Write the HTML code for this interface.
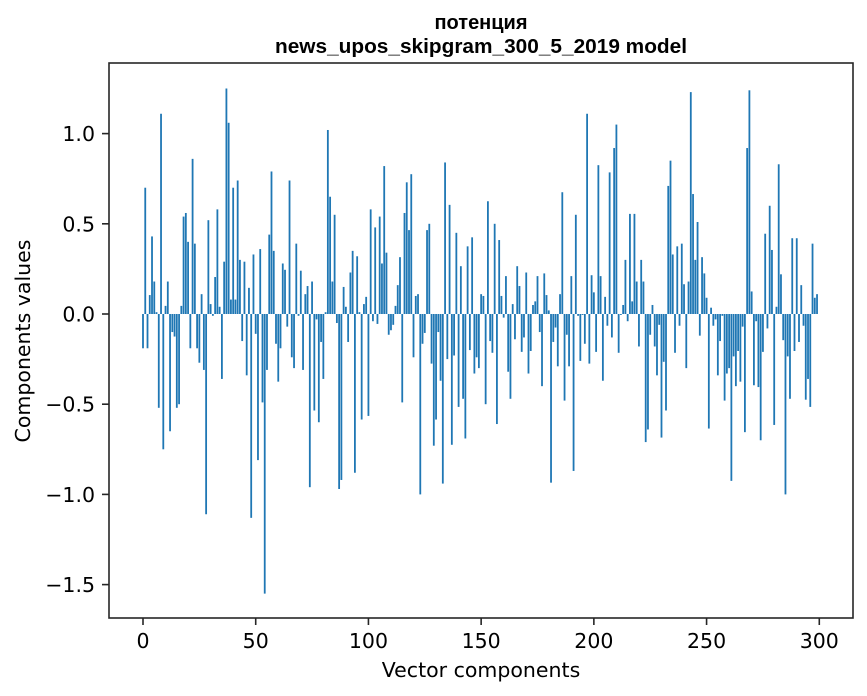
<!DOCTYPE html>
<html>
<head>
<meta charset="utf-8">
<style>
  html,body{margin:0;padding:0;background:#fff;}
  svg{display:block;}
  .tick{font-family:"DejaVu Sans","Liberation Sans",sans-serif;font-size:20.5px;fill:#000;}
  .lab{font-family:"DejaVu Sans","Liberation Sans",sans-serif;font-size:20.5px;fill:#000;}
  .title{font-family:"Liberation Sans","DejaVu Sans",sans-serif;font-size:20px;font-weight:bold;fill:#000;}
</style>
</head>
<body>
<svg id="chart" width="867" height="696" viewBox="0 0 867 696" xmlns="http://www.w3.org/2000/svg">
  <rect width="867" height="696" fill="#fff"/>
  <text class="title" x="481" y="29" text-anchor="middle">потенция</text>
  <text class="title" x="481" y="53" text-anchor="middle" textLength="412" lengthAdjust="spacingAndGlyphs">news_upos_skipgram_300_5_2019 model</text>
  <g id="bars"></g>
  <g id="xticks"></g>
  <g id="yticks"></g>
  <rect x="109" y="63" width="744" height="555" fill="none" stroke="#262626" stroke-width="1.6"/>
  <text class="lab" x="481" y="677" text-anchor="middle">Vector components</text>
  <text class="lab" x="0" y="0" text-anchor="middle" transform="translate(30,341) rotate(-90)">Components values</text>
</svg>
<script>
const values = [
-0.19,0.70,-0.19,0.105,0.43,0.18,0.01,-0.52,1.11,-0.75,
0.045,0.18,-0.65,-0.10,-0.125,-0.52,-0.50,0.045,0.54,0.56,
0.40,-0.19,0.86,0.39,-0.19,-0.27,0.11,-0.31,-1.11,0.52,
0.055,-0.01,0.205,0.58,0.04,-0.36,0.29,1.25,1.06,0.08,
0.70,0.08,0.74,0.30,-0.15,0.29,-0.34,0.145,-1.13,0.33,
-0.11,-0.81,0.36,-0.49,-1.55,-0.31,0.44,0.79,0.35,-0.165,
-0.375,-0.19,0.28,0.245,-0.07,0.74,-0.24,-0.30,0.39,-0.01,
0.24,-0.31,0.11,0.155,-0.96,0.18,-0.535,-0.03,-0.60,-0.155,
-0.36,0.01,1.02,0.65,0.18,0.55,-0.05,-0.97,-0.92,0.15,
0.04,-0.155,0.23,0.35,-0.88,0.32,0.01,-0.585,0.055,0.095,
-0.565,0.58,-0.04,0.48,-0.055,0.54,0.28,0.82,0.34,-0.115,
-0.09,-0.06,0.045,0.16,0.315,-0.49,0.56,0.73,0.465,0.775,
-0.24,0.10,0.11,-1.0,-0.165,-0.105,0.465,0.50,-0.275,-0.73,
-0.585,-0.10,-0.37,-0.94,0.84,-0.25,0.605,-0.725,-0.23,0.45,
-0.515,0.265,-0.47,-0.69,0.375,-0.20,0.425,-0.33,-0.24,-0.30,
0.11,0.10,-0.50,0.625,-0.15,-0.215,0.50,-0.61,0.41,0.10,
-0.02,0.21,-0.32,-0.47,0.055,-0.14,0.265,0.155,-0.21,-0.13,
0.23,-0.33,-0.205,0.05,0.07,0.21,-0.10,-0.40,0.225,0.105,
0.02,-0.935,-0.155,-0.075,-0.29,0.11,0.675,-0.48,-0.115,-0.29,
0.21,-0.87,0.55,-0.01,-0.26,-0.005,-0.165,1.11,-0.275,0.215,
0.12,-0.21,0.825,0.21,-0.37,0.095,-0.065,0.785,-0.13,0.92,
1.05,-0.215,-0.005,0.05,0.30,-0.04,0.555,0.07,0.555,0.18,
-0.18,0.30,0.18,-0.71,-0.64,-0.115,0.05,-0.18,-0.34,-0.06,
-0.685,-0.265,-0.535,0.71,0.85,0.33,-0.215,0.375,-0.065,0.39,
0.165,-0.30,0.18,1.23,0.665,0.30,0.51,-0.12,0.315,0.225,
0.09,-0.635,0.035,-0.065,-0.03,-0.34,-0.15,-0.01,-0.48,-0.33,
-0.30,-0.925,-0.235,-0.40,-0.205,-0.375,-0.07,-0.655,0.92,1.24,
0.125,-0.395,-0.04,-0.405,-0.70,-0.21,0.445,-0.08,0.60,0.355,
-0.615,0.04,0.83,0.22,-0.145,-1.0,-0.235,-0.47,0.42,-0.205,
0.42,-0.155,0.16,-0.065,-0.475,-0.36,-0.515,0.39,0.09,0.11
];
const xTickValues = [0,50,100,150,200,250,300];
const yTickValues = [-1.5,-1.0,-0.5,0.0,0.5,1.0];
const yTickLabels = ["\u22121.5","\u22121.0","\u22120.5","0.0","0.5","1.0"];

const NS = "http://www.w3.org/2000/svg";
function xScale(v){ return 143 + v * 2.2543; }
function yScale(v){ return 314 - v * 180.4; }

const barsG = document.getElementById('bars');
const bw = 0.8 * 2.2543;
values.forEach(function(v, i){
  const r = document.createElementNS(NS, 'rect');
  const y0 = yScale(0), y1 = yScale(v);
  r.setAttribute('x', (xScale(i) - bw/2).toFixed(2));
  r.setAttribute('y', Math.min(y0, y1).toFixed(2));
  r.setAttribute('width', bw.toFixed(2));
  r.setAttribute('height', Math.max(0.3, Math.abs(y1 - y0)).toFixed(2));
  r.setAttribute('fill', '#1f77b4');
  
  
  barsG.appendChild(r);
});

const xg = document.getElementById('xticks');
xTickValues.forEach(function(t){
  const x = xScale(t);
  const l = document.createElementNS(NS, 'line');
  l.setAttribute('x1', x); l.setAttribute('x2', x);
  l.setAttribute('y1', 618); l.setAttribute('y2', 625);
  l.setAttribute('stroke', '#262626'); l.setAttribute('stroke-width', '1.6');
  
  
  xg.appendChild(l);
  const tx = document.createElementNS(NS, 'text');
  tx.setAttribute('x', x); tx.setAttribute('y', 648);
  tx.setAttribute('text-anchor', 'middle');
  tx.setAttribute('class', 'tick');
  tx.textContent = String(t);
  
  
  xg.appendChild(tx);
});

const yg = document.getElementById('yticks');
yTickValues.forEach(function(t, k){
  const y = yScale(t);
  const l = document.createElementNS(NS, 'line');
  l.setAttribute('x1', 102); l.setAttribute('x2', 109);
  l.setAttribute('y1', y); l.setAttribute('y2', y);
  l.setAttribute('stroke', '#262626'); l.setAttribute('stroke-width', '1.6');
  
  
  yg.appendChild(l);
  const tx = document.createElementNS(NS, 'text');
  tx.setAttribute('x', 95); tx.setAttribute('y', y + 7.5);
  tx.setAttribute('text-anchor', 'end');
  tx.setAttribute('class', 'tick');
  tx.textContent = yTickLabels[k];
  
  
  yg.appendChild(tx);
});
</script>
</body>
</html>
